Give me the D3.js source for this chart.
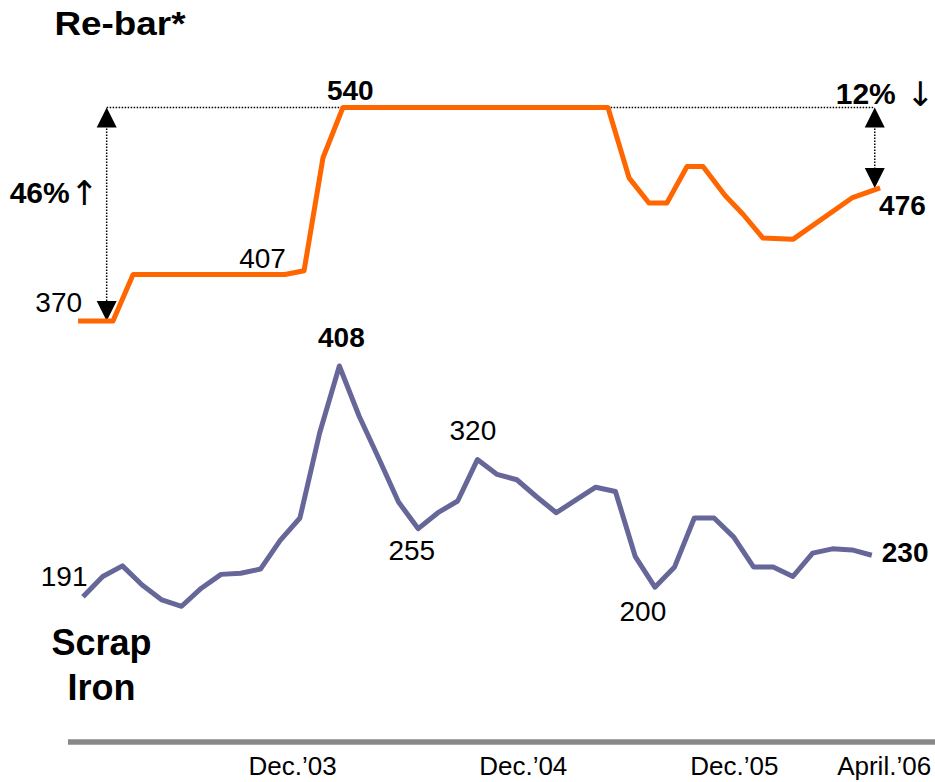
<!DOCTYPE html>
<html>
<head>
<meta charset="utf-8">
<script src="https://cdn.jsdelivr.net/npm/d3@7"></script>
<style>
  html, body { margin: 0; padding: 0; background: #ffffff; }
  svg { display: block; font-family: "Liberation Sans", Arial, Helvetica, sans-serif; }
</style>
</head>
<body>
<svg id="chart" width="935" height="782"></svg>
<script>
// Scrap iron price, one value per month
const scrapValues = [191, 210, 220, 202, 188, 182, 199, 212, 213, 217,
                     244, 265, 345, 408, 361, 321, 280, 255, 270, 281,
                     320, 306, 301, 285, 270, 282, 294, 290, 229, 200,
                     219, 265, 265, 247, 219, 219, 210, 232, 236, 235, 230];

// Re-bar list price: the dates of each price change, in months on the same axis
const rebarMonths = [-0.25, 1.52, 2.54, 10.24, 11.21, 12.17, 13.18, 26.62, 27.69,
                     28.7, 29.61, 30.63, 31.44, 32.56, 33.47, 34.48, 36.0, 38.99, 40.42];
const rebarValues = [370, 370, 407, 407, 410, 500, 540, 540, 484,
                     464, 464, 493, 493, 470, 455, 436, 435, 468, 476];

// Time axis labels and their month positions
const tickMonths = [10.6, 22.3, 33, 40.6];
const tickLabels = ["Dec.’03", "Dec.’04", "Dec.’05", "April.’06"];

// Points whose value is written on the chart
const rebarLabelIdx = [0, 3, 6, 18];
const scrapLabelIdx = [0, 13, 17, 20, 29, 40];

// Change brackets between two re-bar levels
const changeMonths = [1.2, 40.15];
const changeFrom   = [540, 540];
const changeTo     = [370, 476];
const changeText   = ["46%", "12%"];
const changeArrow  = ["↑", "↓"];

const ORANGE = "#ff6600";
const PURPLE = "#666699";

const svg = d3.select("#chart");

const x = d3.scaleLinear().domain([0, 40]).range([83, 871.8]);
const yRebar = d3.scaleLinear().domain([370, 540]).range([321, 107.5]);
const yScrap = d3.scaleLinear().domain([191, 408]).range([596.7, 366]);

const rebar = rebarMonths.map((m, i) => ({ m, v: rebarValues[i] }));
const scrap = scrapValues.map((v, i) => ({ m: i, v }));

// ---- change brackets (dotted guides with arrowheads) ----
const guides = svg.append("g").attr("class", "guides");
guides.append("line")
  .attr("x1", x(changeMonths[0])).attr("x2", x(changeMonths[1]))
  .attr("y1", yRebar(540)).attr("y2", yRebar(540))
  .attr("stroke", "#000").attr("stroke-width", 1.5).attr("stroke-dasharray", "1.5,1.5");

changeMonths.forEach((m, i) => {
  const cx = x(m), yTop = yRebar(changeFrom[i]), yBot = yRebar(changeTo[i]);
  guides.append("line")
    .attr("x1", cx).attr("x2", cx).attr("y1", yTop + 18).attr("y2", yBot - 18)
    .attr("stroke", "#000").attr("stroke-width", 1.5).attr("stroke-dasharray", "1.5,1.5");
  guides.append("path")
    .attr("d", `M${cx},${yTop} L${cx - 10},${yTop + 20} L${cx + 10},${yTop + 20} Z`)
    .attr("fill", "#000");
  guides.append("path")
    .attr("d", `M${cx},${yBot} L${cx - 10},${yBot - 20} L${cx + 10},${yBot - 20} Z`)
    .attr("fill", "#000");
});

// ---- lines ----
const rebarLine = d3.line().x(d => x(d.m)).y(d => yRebar(d.v));
const scrapLine = d3.line().x(d => x(d.m)).y(d => yScrap(d.v));

svg.append("path").datum(rebar)
  .attr("d", rebarLine)
  .attr("fill", "none").attr("stroke", ORANGE).attr("stroke-width", 5)
  .attr("stroke-linejoin", "round");

svg.append("path").datum(scrap)
  .attr("d", scrapLine)
  .attr("fill", "none").attr("stroke", PURPLE).attr("stroke-width", 5)
  .attr("stroke-linejoin", "round");

// ---- value labels ----
const rebarLabelStyle = {
  0:  { dx: 4,   dy: -9,   anchor: "end",    bold: false },
  3:  { dx: 1,   dy: -6.5, anchor: "end",    bold: false },
  6:  { dx: -16, dy: -7.5, anchor: "start",  bold: true },
  18: { dx: -1,  dy: 27,   anchor: "start",  bold: true }
};
const scrapLabelStyle = {
  0:  { dx: 4.5,  dy: -11,  anchor: "end",    bold: false },
  13: { dx: 2,    dy: -19,  anchor: "middle", bold: true },
  17: { dx: -6.5, dy: 31.5, anchor: "middle", bold: false },
  20: { dx: -4.5, dy: -20,  anchor: "middle", bold: false },
  29: { dx: -12,  dy: 33.5, anchor: "middle", bold: false },
  40: { dx: 10,   dy: 7,    anchor: "start",  bold: true }
};

const labels = svg.append("g").attr("class", "value-labels");
rebarLabelIdx.forEach(i => {
  const s = rebarLabelStyle[i], d = rebar[i];
  labels.append("text")
    .attr("x", x(d.m) + s.dx).attr("y", yRebar(d.v) + s.dy)
    .attr("text-anchor", s.anchor)
    .attr("font-size", 28).attr("font-weight", s.bold ? "bold" : "normal")
    .attr("fill", "#000")
    .text(d.v);
});
scrapLabelIdx.forEach(i => {
  const s = scrapLabelStyle[i], d = scrap[i];
  labels.append("text")
    .attr("x", x(d.m) + s.dx).attr("y", yScrap(d.v) + s.dy)
    .attr("text-anchor", s.anchor)
    .attr("font-size", 28).attr("font-weight", s.bold ? "bold" : "normal")
    .attr("fill", "#000")
    .text(d.v);
});

// ---- change percentages ----
const pct = svg.append("g").attr("class", "change-labels");
const pctPos   = [{ dx: -97, dy: 0 }, { dx: -39, dy: 0 }];
const arrowPos = [{ dx: -22.5 }, { dx: 45.5 }];
changeMonths.forEach((m, i) => {
  const cx = x(m);
  const base = i === 0
    ? (yRebar(changeFrom[i]) + yRebar(changeTo[i])) / 2 - 11
    : yRebar(changeFrom[i]) - 4;
  pct.append("text")
    .attr("x", cx + pctPos[i].dx).attr("y", base)
    .attr("font-size", 30).attr("font-weight", "bold").attr("fill", "#000")
    .text(changeText[i]);
  pct.append("text")
    .attr("x", cx + arrowPos[i].dx).attr("y", base + 2)
    .attr("text-anchor", "middle")
    .attr("font-family", "'DejaVu Sans', sans-serif")
    .attr("font-size", 34).attr("font-weight", "normal").attr("fill", "#000")
    .text(changeArrow[i]);
});

// ---- series names ----
svg.append("text")
  .attr("x", 54.5).attr("y", 35)
  .attr("font-size", 33).attr("font-weight", "bold").attr("fill", "#000")
  .attr("textLength", 131).attr("lengthAdjust", "spacingAndGlyphs")
  .text("Re-bar*");

const scrapName = svg.append("text")
  .attr("text-anchor", "middle")
  .attr("font-size", 36).attr("font-weight", "bold").attr("fill", "#000");
scrapName.append("tspan").attr("x", 101.5).attr("y", 654.5).text("Scrap");
scrapName.append("tspan").attr("x", 101.5).attr("y", 700).text("Iron");

// ---- time axis ----
svg.append("line")
  .attr("x1", 68).attr("x2", 935).attr("y1", 742).attr("y2", 742)
  .attr("stroke", "#888888").attr("stroke-width", 5.5);

const axis = d3.axisBottom(x)
  .tickValues(tickMonths)
  .tickFormat((d, i) => tickLabels[i])
  .tickSize(0)
  .tickPadding(14.5);

svg.append("g")
  .attr("transform", "translate(0,742)")
  .call(axis)
  .call(g => g.select(".domain").remove())
  .call(g => g.selectAll("text")
    .attr("font-size", 26)
    .attr("font-family", "'Liberation Sans', Arial, sans-serif")
    .attr("fill", "#000"));
</script>
</body>
</html>
